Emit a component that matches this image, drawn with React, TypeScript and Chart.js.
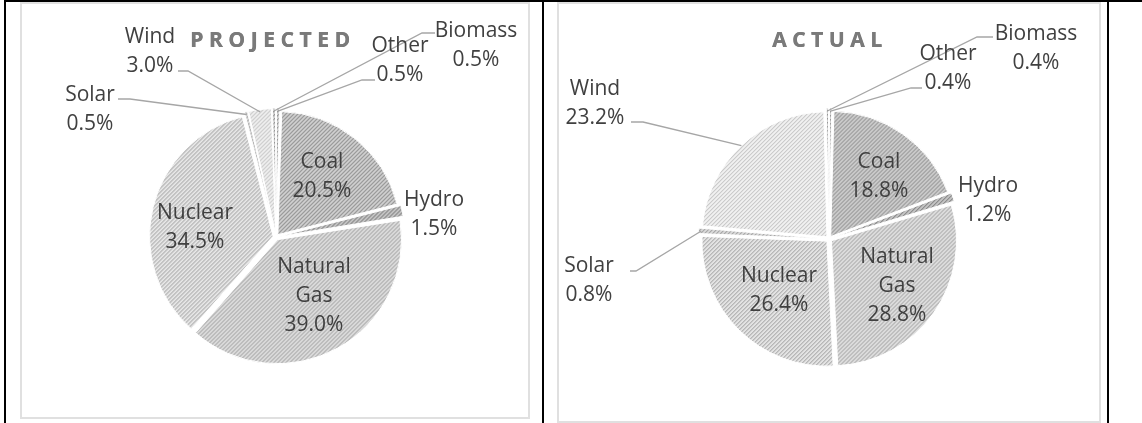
import React, { useEffect, useRef } from "react";
import { Chart, registerables } from "chart.js";

Chart.register(...registerables);

// ---------------- data ----------------
const categories = ["Other", "Coal", "Hydro", "Natural Gas", "Nuclear", "Solar", "Wind", "Biomass"];
const projectedValues = [0.5, 20.5, 1.5, 39.0, 34.5, 0.5, 3.0, 0.5];
const actualValues = [0.4, 18.8, 1.2, 28.8, 26.4, 0.8, 23.2, 0.4];
const chartTitles = ["PROJECTED", "ACTUAL"];

// ---------------- styles ----------------
// [background, stripe] per category
const projectedFills: [string, string][] = [
  ["#d2d2d2", "#929292"],
  ["#d2d2d2", "#8c8c8c"],
  ["#c6c6c6", "#858585"],
  ["#e3e3e3", "#9f9f9f"],
  ["#e8e8e8", "#acacac"],
  ["#dcdcdc", "#a0a0a0"],
  ["#f0f0f0", "#c6c6c6"],
  ["#d2d2d2", "#929292"],
];
const actualFills: [string, string][] = [
  ["#d2d2d2", "#929292"],
  ["#d2d2d2", "#8c8c8c"],
  ["#c6c6c6", "#858585"],
  ["#e5e5e5", "#a2a2a2"],
  ["#e7e7e7", "#ababab"],
  ["#dcdcdc", "#a0a0a0"],
  ["#f1f1f1", "#c8c8c8"],
  ["#d2d2d2", "#929292"],
];

const LABEL_FONT = "21px 'Open Sans', 'DejaVu Sans', sans-serif";
const TITLE_FONT = "bold 21px 'Open Sans', 'DejaVu Sans', sans-serif";
const LABEL_COLOR = "#404040";
const TITLE_COLOR = "#7a7a7a";
const LEADER_COLOR = "#a6a6a6";
const LINE_H = 29;
const ARC_OFFSET = 12; // chart.js translates by offset/4
const ARC_BORDER = 1;

type Place = { dx: number; dy: number; leader?: [number, number][] };
type Layout = {
  canvas: { left: number; top: number; width: number; height: number };
  center: { x: number; y: number };
  radius: number;
  title: { dx: number; dy: number; width: number };
  labels: Place[];
};

const projectedLayout: Layout = {
  canvas: { left: 22, top: 5, width: 506, height: 412 },
  center: { x: 276, y: 237 },
  radius: 123,
  title: { dx: -6, dy: -190, width: 160 },
  labels: [
    { dx: 124, dy: -185, leader: [[99, -157], [86, -157]] },
    { dx: 46, dy: -69 },
    { dx: 158, dy: -31 },
    { dx: 38, dy: 36 },
    { dx: -81, dy: -18 },
    { dx: -186, dy: -136, leader: [[-158, -138], [-146, -138]] },
    { dx: -126, dy: -194, leader: [[-98, -166], [-88, -166]] },
    { dx: 200, dy: -200, leader: [[159, -204], [146, -204]] },
  ],
};

const actualLayout: Layout = {
  canvas: { left: 559, top: 5, width: 540, height: 416 },
  center: { x: 829, y: 239 },
  radius: 125,
  title: { dx: -2, dy: -192, width: 110 },
  labels: [
    { dx: 119, dy: -179, leader: [[93, -151], [82, -151]] },
    { dx: 50, dy: -71 },
    { dx: 159, dy: -47 },
    { dx: 68, dy: 24 },
    { dx: -50, dy: 43 },
    { dx: -240, dy: 33, leader: [[-199, 32], [-193, 32]] },
    { dx: -234, dy: -144, leader: [[-198, -117], [-186, -117]] },
    { dx: 207, dy: -199, leader: [[164, -202], [148, -202]] },
  ],
};

function hexToRgb(h: string): [number, number, number] {
  const n = parseInt(h.slice(1), 16);
  return [(n >> 16) & 255, (n >> 8) & 255, n & 255];
}

function makePattern(bg: string, fg: string): CanvasPattern | string {
  const c = document.createElement("canvas");
  c.width = 4;
  c.height = 4;
  const cx = c.getContext("2d");
  if (!cx) return bg;
  const img = cx.createImageData(4, 4);
  const b = hexToRgb(bg);
  const f = hexToRgb(fg);
  for (let y = 0; y < 4; y++) {
    for (let x = 0; x < 4; x++) {
      const d = (x + y) % 4;
      let col = b;
      if (d === 0) col = f;
      else if (d === 1) col = [
        Math.round(f[0] * 0.4 + b[0] * 0.6),
        Math.round(f[1] * 0.4 + b[1] * 0.6),
        Math.round(f[2] * 0.4 + b[2] * 0.6),
      ];
      const i = (y * 4 + x) * 4;
      img.data[i] = col[0];
      img.data[i + 1] = col[1];
      img.data[i + 2] = col[2];
      img.data[i + 3] = 255;
    }
  }
  cx.putImageData(img, 0, 0);
  const p = cx.createPattern(c, "repeat");
  return p || bg;
}

function makeLabelPlugin(layout: Layout, title: string, values: number[]) {
  const total = values.reduce((a, b) => a + b, 0);
  return {
    id: "excelLabels",
    afterDraw(chart: any) {
      const ctx: CanvasRenderingContext2D = chart.ctx;
      const meta = chart.getDatasetMeta(0);
      if (!meta.data.length) return;
      const cx = meta.data[0].x;
      const cy = meta.data[0].y;
      ctx.save();

      // title (letter spaced to fill its measured width)
      ctx.font = TITLE_FONT;
      ctx.fillStyle = TITLE_COLOR;
      ctx.textAlign = "left";
      ctx.textBaseline = "alphabetic";
      const chars = title.split("");
      const widths = chars.map((ch) => ctx.measureText(ch).width);
      const sum = widths.reduce((a, b) => a + b, 0);
      const spacing = Math.max(0, (layout.title.width - sum) / (chars.length - 1));
      const tw = sum + spacing * (chars.length - 1);
      let tx = cx + layout.title.dx - tw / 2;
      chars.forEach((ch, k) => {
        ctx.fillText(ch, tx, cy + layout.title.dy);
        // faux extra weight
        ctx.fillText(ch, tx + 0.4, cy + layout.title.dy);
        tx += widths[k] + spacing;
      });

      // leader lines
      ctx.strokeStyle = LEADER_COLOR;
      ctx.lineWidth = 1.3;
      meta.data.forEach((arc: any, i: number) => {
        const place = layout.labels[i];
        if (!place || !place.leader) return;
        const p = arc.getProps(["x", "y", "startAngle", "endAngle", "outerRadius"], true);
        const mid = (p.startAngle + p.endAngle) / 2;
        const off = (arc.options.offset || 0) / 4;
        const ex = p.x + Math.cos(mid) * (p.outerRadius + off);
        const ey = p.y + Math.sin(mid) * (p.outerRadius + off);
        ctx.beginPath();
        ctx.moveTo(cx + place.leader[0][0], cy + place.leader[0][1]);
        for (let k = 1; k < place.leader.length; k++) {
          ctx.lineTo(cx + place.leader[k][0], cy + place.leader[k][1]);
        }
        ctx.lineTo(ex, ey);
        ctx.stroke();
      });

      // labels
      ctx.font = LABEL_FONT;
      ctx.fillStyle = LABEL_COLOR;
      ctx.textAlign = "center";
      meta.data.forEach((_arc: any, i: number) => {
        const place = layout.labels[i];
        if (!place) return;
        const pct = ((values[i] / total) * 100).toFixed(1) + "%";
        const lines = [...categories[i].split(" "), pct];
        lines.forEach((t, k) => {
          ctx.fillText(t, cx + place.dx, cy + place.dy + k * LINE_H);
        });
      });
      ctx.restore();
    },
  };
}

function PieCanvas(props: { values: number[]; fills: [string, string][]; layout: Layout; title: string }) {
  const { values, fills, layout, title } = props;
  const ref = useRef<HTMLCanvasElement | null>(null);

  useEffect(() => {
    const canvas = ref.current;
    if (!canvas) return;
    const S = 2 * layout.radius + ARC_OFFSET + ARC_BORDER;
    const relX = layout.center.x - layout.canvas.left;
    const relY = layout.center.y - layout.canvas.top;
    const padding = {
      left: relX - S / 2,
      top: relY - S / 2,
      right: layout.canvas.width - (relX + S / 2),
      bottom: layout.canvas.height - (relY + S / 2),
    };
    const chart = new Chart(canvas, {
      type: "pie",
      data: {
        labels: categories,
        datasets: [
          {
            data: values,
            backgroundColor: fills.map(([bg, fg]) => makePattern(bg, fg)) as any,
            borderColor: "#ffffff",
            borderWidth: ARC_BORDER,
            offset: ARC_OFFSET,
          },
        ],
      },
      options: {
        responsive: false,
        animation: false,
        layout: { padding },
        plugins: {
          legend: { display: false },
          tooltip: { enabled: false },
          title: { display: false },
        },
      },
      plugins: [makeLabelPlugin(layout, title, values)],
    });
    return () => chart.destroy();
  }, []);

  return (
    <canvas
      ref={ref}
      width={layout.canvas.width}
      height={layout.canvas.height}
      style={{
        position: "absolute",
        left: layout.canvas.left,
        top: layout.canvas.top,
        width: layout.canvas.width,
        height: layout.canvas.height,
      }}
    />
  );
}

const abs = (left: number, top: number, width: number, height: number, extra: React.CSSProperties = {}): React.CSSProperties => ({
  position: "absolute",
  left,
  top,
  width,
  height,
  boxSizing: "border-box",
  ...extra,
});

export default function App() {
  return (
    <div style={{ position: "absolute", left: 0, top: 0, width: 1142, height: 423, background: "#ffffff", overflow: "hidden" }}>
      {/* grey chart frames */}
      <div style={abs(20, 2, 510, 417, { border: "2px solid #e0e0e0" })} />
      <div style={abs(557, 2, 544, 421, { border: "2px solid #e0e0e0" })} />
      {/* table black lines */}
      <div style={abs(4, 0, 1138, 2, { background: "#000" })} />
      <div style={abs(4, 0, 2, 423, { background: "#000" })} />
      <div style={abs(542, 0, 2, 423, { background: "#000" })} />
      <div style={abs(1107, 0, 2, 423, { background: "#000" })} />
      <PieCanvas values={projectedValues} fills={projectedFills} layout={projectedLayout} title={chartTitles[0]} />
      <PieCanvas values={actualValues} fills={actualFills} layout={actualLayout} title={chartTitles[1]} />
    </div>
  );
}
